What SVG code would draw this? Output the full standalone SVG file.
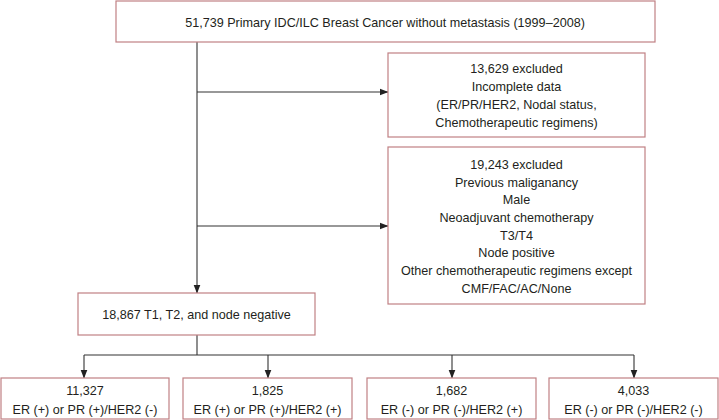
<svg xmlns="http://www.w3.org/2000/svg" width="719" height="420" viewBox="0 0 719 420">
<style>
.box{fill:#fff;stroke:#c08084;stroke-width:1.2}
.t{font-family:"Liberation Sans",Arial,sans-serif;font-size:12.6px;fill:#231f20;text-anchor:middle}
.c{fill:none;stroke:#333;stroke-width:1.1}
</style>
<defs>
<marker id="ah" markerWidth="9" markerHeight="8" refX="8.5" refY="4" orient="auto" markerUnits="userSpaceOnUse">
<path d="M0,0.5 L9,4 L0,7.5 Z" fill="#222"/>
</marker>
</defs>
<rect width="719" height="420" fill="#fff"/>
<g id="connectors">
<path class="c" d="M197,42 V293" marker-end="url(#ah)"/>
<path class="c" d="M197,92 H388" marker-end="url(#ah)"/>
<path class="c" d="M197,226 H388" marker-end="url(#ah)"/>
<path class="c" d="M197,335 V355 M84,355 H634"/>
<path class="c" d="M84,355 V378" marker-end="url(#ah)"/>
<path class="c" d="M268,355 V378" marker-end="url(#ah)"/>
<path class="c" d="M452,355 V378" marker-end="url(#ah)"/>
<path class="c" d="M634,355 V378" marker-end="url(#ah)"/>
</g>
<g id="n-total">
<rect class="box" x="116" y="1" width="539" height="41"/>
<text class="t" x="385" y="26.5">51,739 Primary IDC/ILC Breast Cancer without metastasis (1999–2008)</text>
</g>
<g id="n-excl1">
<rect class="box" x="388" y="53" width="257" height="84"/>
<text class="t" x="516.5" y="72.5">13,629 excluded</text>
<text class="t" x="516.5" y="90.5">Incomplete data</text>
<text class="t" x="516.5" y="108.5">(ER/PR/HER2, Nodal status,</text>
<text class="t" x="516.5" y="126.5">Chemotherapeutic regimens)</text>
</g>
<g id="n-excl2">
<rect class="box" x="388" y="147" width="257" height="157"/>
<text class="t" x="516.5" y="168.5">19,243 excluded</text>
<text class="t" x="516.5" y="186.5">Previous maliganancy</text>
<text class="t" x="516.5" y="204">Male</text>
<text class="t" x="516.5" y="221.5">Neoadjuvant chemotherapy</text>
<text class="t" x="516.5" y="239.5">T3/T4</text>
<text class="t" x="516.5" y="257">Node positive</text>
<text class="t" x="516.5" y="274.5">Other chemotherapeutic regimens except</text>
<text class="t" x="516.5" y="292.5">CMF/FAC/AC/None</text>
</g>
<g id="n-included">
<rect class="box" x="78" y="293" width="237" height="42"/>
<text class="t" x="196.5" y="319">18,867 T1, T2, and node negative</text>
</g>
<g id="n-g1">
<rect class="box" x="1" y="378" width="168" height="41"/>
<text class="t" x="85" y="394.5">11,327</text>
<text class="t" x="85" y="413.5">ER (+) or PR (+)/HER2 (-)</text>
</g>
<g id="n-g2">
<rect class="box" x="183" y="378" width="169" height="41"/>
<text class="t" x="267.5" y="394.5">1,825</text>
<text class="t" x="267.5" y="413.5">ER (+) or PR (+)/HER2 (+)</text>
</g>
<g id="n-g3">
<rect class="box" x="367" y="378" width="169" height="41"/>
<text class="t" x="451.5" y="394.5">1,682</text>
<text class="t" x="451.5" y="413.5">ER (-) or PR (-)/HER2 (+)</text>
</g>
<g id="n-g4">
<rect class="box" x="549" y="378" width="169" height="41"/>
<text class="t" x="633.5" y="394.5">4,033</text>
<text class="t" x="633.5" y="413.5">ER (-) or PR (-)/HER2 (-)</text>
</g>
</svg>
